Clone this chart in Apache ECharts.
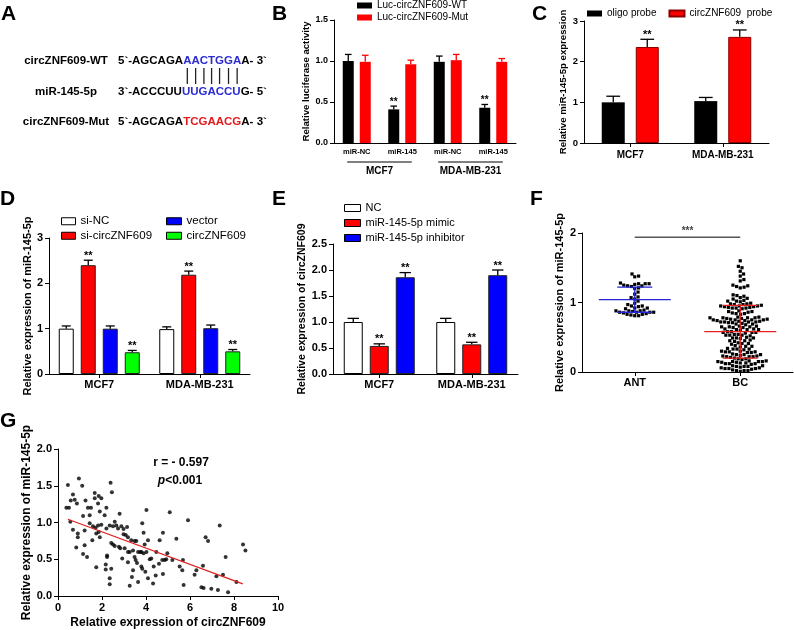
<!DOCTYPE html>
<html><head><meta charset="utf-8">
<script src="https://cdn.jsdelivr.net/npm/echarts@6/dist/echarts.min.js"></script>
<style>html,body{margin:0;padding:0;background:#fff}#c{width:794px;height:630px}</style>
</head><body><div id="c"></div>
<script>
const FONT = '"Liberation Sans", Arial, Helvetica, sans-serif';

// ---------- Panel A ----------
const seqLabelsA = ['circZNF609-WT', 'miR-145-5p', 'circZNF609-Mut'];
const seqPartsA = [
  ['5`-AGCAGA', 'AACTGGA', 'A- 3`'],
  ['3`-ACCCUU', 'UUGACCU', 'G- 5`'],
  ['5`-AGCAGA', 'TCGAACG', 'A- 3`']
];

// ---------- Panel B ----------
const catB = ['miR-NC', 'miR-145', 'miR-NC', 'miR-145'];
const groupB = ['MCF7', 'MDA-MB-231'];
const wtB = [1.00, 0.41, 0.99, 0.43];
const wtErrB = [0.08, 0.04, 0.07, 0.04];
const mutB = [0.99, 0.96, 1.01, 0.99];
const mutErrB = [0.08, 0.05, 0.07, 0.04];
const wtStarB = ['', '**', '', '**'];
const noStarB = ['', '', '', ''];
const ticksB = [0, 0.5, 1, 1.5];
const tickLabB = ['0.0', '0.5', '1.0', '1.5'];

// ---------- Panel C ----------
const catC = ['MCF7', 'MDA-MB-231'];
const oligoC = [1.00, 1.03];
const oligoErrC = [0.15, 0.09];
const probeC = [2.36, 2.61];
const probeErrC = [0.19, 0.17];
const probeStarC = ['**', '**'];
const ticksC = [0, 1, 2, 3];
const tickLabC = ['0', '1', '2', '3'];

// ---------- Panel D ----------
const catD = ['MCF7', 'MDA-MB-231'];
const siNCD = [1.00, 0.99];
const siNCErrD = [0.06, 0.05];
const siCircD = [2.40, 2.19];
const siCircErrD = [0.11, 0.08];
const vectorD = [1.00, 1.01];
const vectorErrD = [0.06, 0.07];
const circD = [0.48, 0.50];
const circErrD = [0.04, 0.04];
const starD = ['**', '**'];
const ticksD = [0, 1, 2, 3];
const tickLabD = ['0', '1', '2', '3'];

// ---------- Panel E ----------
const catE = ['MCF7', 'MDA-MB-231'];
const ncE = [1.00, 1.00];
const ncErrE = [0.07, 0.07];
const mimicE = [0.54, 0.57];
const mimicErrE = [0.04, 0.04];
const inhE = [1.86, 1.90];
const inhErrE = [0.09, 0.10];
const starE = ['**', '**'];
const ticksE = [0, 0.5, 1, 1.5, 2, 2.5];
const tickLabE = ['0.0', '0.5', '1.0', '1.5', '2.0', '2.5'];

// ---------- Panel F ----------
const catF = ['ANT', 'BC'];
const antF = [1.41,1.38,1.37,1.28,1.27,1.27,1.26,1.27,1.25,1.24,1.24,1.23,1.21,1.20,1.15,1.12,1.08,1.07,1.05,1.02,
  0.99,0.97,0.95,0.95,0.94,0.92,0.92,0.91,0.89,0.88,0.88,0.87,0.88,0.86,0.86,0.85,0.86,0.86,0.83,0.83,0.82,0.84,0.81,0.81];
const bcF = [1.60,1.52,1.50,1.45,1.41,1.38,1.33,1.31,1.25,1.24,1.23,1.22,1.21,
  1.11,1.10,1.09,1.07,1.06,1.05,1.03,1.02,1.02,1.01,
  0.99,0.98,0.98,0.97,0.97,0.96,0.95,0.95,0.94,0.94,0.95,0.93,0.92,0.92,0.91,0.92,0.93,
  0.88,0.87,0.87,0.86,0.85,0.84,0.84,0.83,
  0.79,0.78,0.78,0.77,0.78,0.79,0.77,0.78,0.76,0.75,0.75,0.74,0.75,0.76,0.74,0.75,
  0.72,0.72,0.71,0.73,0.72,0.71,0.72,0.73,0.69,0.69,0.68,0.70,
  0.66,0.65,0.65,0.64,0.66,0.65,0.64,0.62,0.61,0.61,0.60,0.62,0.61,0.58,0.57,0.57,0.56,0.58,0.57,
  0.54,0.53,0.53,0.52,0.54,0.53,0.50,0.49,0.49,0.48,0.49,0.46,0.45,0.45,0.44,
  0.42,0.41,0.41,0.40,0.38,0.37,0.37,0.36,0.34,0.33,0.33,0.32,0.33,0.30,0.29,0.29,0.28,0.29,0.30,0.28,
  0.26,0.25,0.25,0.24,0.25,0.23,0.22,0.22,0.21,0.22,0.23,0.20,0.19,0.19,0.18,
  0.16,0.15,0.15,0.14,0.15,0.16,0.14,0.15,0.13,0.12,0.12,0.11,0.12,0.13,
  0.09,0.08,0.08,0.07,0.08,0.09,0.06,0.05,0.05,0.04,0.05,0.06,0.03,0.02,0.02,0.01,0.02];
const meanF = [1.04, 0.58];
const sdF = [0.18, 0.38];
const sigF = [1.94];
const ticksF = [0, 1, 2];
const tickLabF = ['0', '1', '2'];

// ---------- Panel G ----------
const scatterG = [[0.45,1.51],[0.38,1.2],[0.5,1.2],[0.95,1.6],[1.1,1.5],[0.68,1.38],[0.58,1.3],[0.76,1.31],[0.86,1.26],[1.25,1.3],
  [1.36,1.2],[1.5,1.2],[1.67,1.33],[1.85,1.36],[1.97,1.33],[1.67,1.4],[1.82,1.26],[1.9,1.15],[2.2,1.2],[2.12,1.1],
  [1.14,1.09],[1.44,1.1],[2.39,1.54],[2.45,1.41],[0.56,1.01],[0.68,0.9],[0.9,0.85],[0.9,0.8],[0.83,0.66],[1.14,0.57],
  [1.32,0.53],[1.21,0.69],[1.21,0.89],[1.44,0.99],[1.59,0.95],[1.71,0.93],[1.82,0.96],[1.97,0.97],[1.56,0.76],[1.74,0.85],
  [1.85,0.87],[1.9,0.8],[1.74,0.39],[2.2,0.92],[2.23,0.55],[2.23,0.53],[2.17,0.43],[2.17,0.36],[2.35,0.24],[2.35,0.16],
  [2.42,0.37],[2.35,0.96],[2.5,0.95],[2.58,1.01],[2.42,0.72],[2.5,0.7],[2.58,0.68],[2.65,0.96],[2.73,0.92],[2.8,1.12],
  [2.88,0.95],[2.98,0.91],[2.98,0.84],[3.08,0.83],[2.77,0.67],[2.83,0.65],[2.92,0.51],[3.03,0.65],[3.18,0.6],[3.14,0.94],
  [3.18,0.8],[3.26,0.6],[3.18,0.46],[3.26,0.14],[3.33,0.76],[3.41,0.62],[3.48,0.53],[3.41,0.35],[3.36,0.26],[3.48,0.75],
  [3.56,0.75],[3.53,0.49],[3.59,0.45],[3.64,0.19],[3.64,0.6],[3.74,0.6],[3.79,0.4],[3.83,0.37],[3.83,0.99],[3.89,0.86],
  [3.79,0.6],[3.89,0.58],[4.02,0.6],[3.94,0.7],[4.02,1.17],[3.97,0.33],[4.09,0.24],[4.17,0.5],[4.24,0.51],[4.09,0.76],
  [4.32,0.17],[4.35,0.4],[4.47,0.6],[4.44,0.28],[4.62,0.76],[4.59,0.44],[4.77,0.86],[4.74,0.49],[4.85,0.49],[4.92,0.5],
  [4.77,0.3],[4.97,0.58],[5.08,1.14],[5.2,0.49],[5.38,0.78],[5.53,0.4],[5.65,0.35],[5.68,0.49],[5.71,0.15],[5.91,1.03],
  [6.21,0.29],[6.29,0.35],[6.59,0.41],[6.52,0.12],[6.62,0.11],[6.71,0.8],[6.82,0.75],[6.97,0.1],[7.2,0.27],[7.27,0.08],
  [7.35,0.96],[7.5,0.29],[7.62,0.53],[7.73,0.05],[8.11,0.19],[8.41,0.7],[8.52,0.62]];
const regG = [[0.45, 1.045], [8.4, 0.165]];
const statTextG = ['r = - 0.597', 'p', '<0.001'];
const ticksGy = [0, 0.5, 1, 1.5, 2];
const tickLabGy = ['0.0', '0.5', '1.0', '1.5', '2.0'];
const ticksGx = [0, 2, 4, 6, 8, 10];
const tickLabGx = ['0', '2', '4', '6', '8', '10'];

// ---------- helpers ----------
function labFmt(ticks, labs) {
  return v => { const k = ticks.findIndex(t => Math.abs(t - v) < 1e-9); return k >= 0 ? labs[k] : ''; };
}
function yAx(grid, ticks, labs, fs, name, nameFs, nameGap) {
  return {
    type: 'value', gridIndex: grid, min: ticks[0], max: ticks[ticks.length - 1], interval: ticks[1] - ticks[0],
    axisLine: { show: true, lineStyle: { color: '#000', width: 1 } },
    axisTick: { show: true, length: 4, lineStyle: { color: '#000', width: 1 } },
    splitLine: { show: false },
    axisLabel: { fontSize: fs, fontWeight: 'bold', color: '#000', fontFamily: FONT, margin: 6, formatter: labFmt(ticks, labs) },
    name: name, nameLocation: 'middle', nameGap: nameGap,
    nameTextStyle: { fontSize: nameFs, fontWeight: 'bold', color: '#000', fontFamily: FONT }
  };
}
function xCat(grid, data, fs, ticks, margin) {
  return {
    type: 'category', gridIndex: grid, data: data,
    axisLine: { show: true, lineStyle: { color: '#000', width: 1 } },
    axisTick: { show: ticks, alignWithLabel: true, length: 4, lineStyle: { color: '#000' } },
    axisLabel: { fontSize: fs, fontWeight: 'bold', color: '#000', fontFamily: FONT, interval: 0, margin: margin }
  };
}
function barS(name, xi, yi, vals, w, gap, color, border) {
  return {
    type: 'bar', name: name, xAxisIndex: xi, yAxisIndex: yi, data: vals, barWidth: w,
    barGap: (gap / w * 100) + '%',
    itemStyle: { color: color, borderColor: border || color, borderWidth: border ? 1 : 0 },
    silent: true, z: 3
  };
}
function errS(xi, yi, vals, errs, stars, idx, n, w, gap, color, starFs) {
  return {
    type: 'custom', xAxisIndex: xi, yAxisIndex: yi, silent: true, z: 4, clip: false,
    data: vals.map((v, i) => [i, v, errs[i]]),
    renderItem: function (params, api) {
      const i = api.value(0), v = api.value(1), e = api.value(2);
      const off = (idx - (n - 1) / 2) * (w + gap);
      const p0 = api.coord([i, v]), p1 = api.coord([i, v + e]);
      const x = p0[0] + off, cap = w * 0.3;
      const ch = [
        { type: 'line', shape: { x1: x, y1: p0[1], x2: x, y2: p1[1] }, style: { stroke: color, lineWidth: 1.3 } },
        { type: 'line', shape: { x1: x - cap, y1: p1[1], x2: x + cap, y2: p1[1] }, style: { stroke: color, lineWidth: 1.3 } }
      ];
      const s = stars[params.dataIndex];
      if (s) ch.push({ type: 'text', x: x, y: p1[1] + 1, style: { text: s, align: 'center', verticalAlign: 'bottom', fill: '#000', font: 'bold ' + starFs + 'px ' + FONT } });
      return { type: 'group', children: ch };
    }
  };
}
function swarm(ys, d) {
  const order = ys.map((y, i) => i).sort((a, b) => ys[b] - ys[a]);
  const placed = [], xs = new Array(ys.length);
  for (const i of order) {
    const y = ys[i];
    const near = placed.filter(p => Math.abs(p.y - y) < d);
    const cands = [0];
    near.forEach(p => { const dx = Math.sqrt(d * d - (p.y - y) * (p.y - y)); cands.push(p.x + dx, p.x - dx); });
    cands.sort((a, b) => Math.abs(a) - Math.abs(b) || b - a);
    let x = 0;
    for (const c of cands) {
      if (near.every(p => (p.x - c) * (p.x - c) + (p.y - y) * (p.y - y) >= d * d - 1e-6)) { x = c; break; }
    }
    xs[i] = x; placed.push({ x: x, y: y });
  }
  return xs;
}

// ---------- graphic: panel letters + panel A ----------
const graphics = [];
[['A', 1, 4], ['B', 272, 4], ['C', 532, 4], ['D', 0, 189], ['E', 272, 189], ['F', 530, 189], ['G', 0, 411]].forEach(l => {
  graphics.push({ type: 'text', x: l[1], y: l[2], style: { text: l[0], fill: '#000', font: 'bold 21px ' + FONT, align: 'left', verticalAlign: 'top' } });
});
const rowYA = [61, 92, 122];
const seqFont = 'bold 11.5px ' + FONT;
seqLabelsA.forEach((t, r) => {
  graphics.push({ type: 'text', x: 66, y: rowYA[r], style: { text: t, fill: '#000', font: 'bold 11.5px ' + FONT, align: 'center', verticalAlign: 'middle' } });
  const hi = r === 2 ? '#e31a1c' : '#2b2bd0';
  const p = seqPartsA[r];
  graphics.push({ type: 'text', x: 118, y: rowYA[r], style: {
    text: '{k|' + p[0] + '}{h|' + p[1] + '}{k|' + p[2] + '}', align: 'left', verticalAlign: 'middle', font: seqFont,
    rich: { k: { fill: '#000', font: seqFont }, h: { fill: hi, font: seqFont } } } });
});
(function () {
  const cv = document.createElement('canvas').getContext('2d');
  cv.font = seqFont;
  let x0 = 118 + cv.measureText(seqPartsA[0][0]).width;
  const s = seqPartsA[0][1];
  for (let i = 0; i < s.length; i++) {
    const w = cv.measureText(s[i]).width;
    const cx = x0 + w / 2;
    graphics.push({ type: 'line', shape: { x1: cx, y1: 68, x2: cx, y2: 84 }, style: { stroke: '#222', lineWidth: 1.3 } });
    x0 += w;
  }
})();
graphics.push({ type: 'text', x: 181, y: 463, style: { text: statTextG[0], fill: '#000', font: 'bold 12px ' + FONT, align: 'center', verticalAlign: 'middle' } });
graphics.push({ type: 'text', x: 180, y: 481, style: { text: '{i|' + statTextG[1] + '}{n|' + statTextG[2] + '}', align: 'center', verticalAlign: 'middle', font: 'bold 12px ' + FONT,
  rich: { i: { font: 'italic bold 12px ' + FONT, fill: '#000' }, n: { font: 'bold 12px ' + FONT, fill: '#000' } } } });

const legTxt = fs => ({ fontSize: fs, fontFamily: FONT, color: '#000', lineHeight: fs + 1 });

const option = {
  animation: false,
  backgroundColor: '#fff',
  graphic: graphics,
  grid: [
    { left: 334, top: 20, width: 182, height: 123 },
    { left: 584, top: 21, width: 185, height: 122 },
    { left: 49, top: 238, width: 201, height: 136 },
    { left: 333, top: 244, width: 185, height: 130 },
    { left: 582, top: 233, width: 211, height: 139 },
    { left: 58, top: 449, width: 220, height: 147 }
  ],
  legend: [
    { data: ['Luc-circZNF609-WT', 'Luc-circZNF609-Mut'], orient: 'vertical', left: 357, top: 0, padding: 0, itemWidth: 15, itemHeight: 6, itemGap: 1, icon: 'rect', selectedMode: false, textStyle: legTxt(10) },
    { data: ['oligo probe', 'circZNF609  probe'], orient: 'horizontal', left: 587, top: 8, padding: 0, itemWidth: 15, itemHeight: 6, itemGap: 12, icon: 'rect', selectedMode: false, textStyle: legTxt(10) },
    { data: ['si-NC', 'si-circZNF609'], orient: 'vertical', left: 61, top: 215, padding: 0, itemWidth: 14, itemHeight: 7, itemGap: 2, icon: 'rect', selectedMode: false, textStyle: legTxt(11.5), itemStyle: { borderColor: '#000', borderWidth: 1 } },
    { data: ['vector', 'circZNF609'], orient: 'vertical', left: 166, top: 215, padding: 0, itemWidth: 15, itemHeight: 7, itemGap: 2, icon: 'rect', selectedMode: false, textStyle: legTxt(11.5), itemStyle: { borderColor: '#000', borderWidth: 1 } },
    { data: ['NC', 'miR-145-5p mimic', 'miR-145-5p inhibitor'], orient: 'vertical', left: 344, top: 202, padding: 0, itemWidth: 16, itemHeight: 7, itemGap: 3, icon: 'rect', selectedMode: false, textStyle: legTxt(11), itemStyle: { borderColor: '#000', borderWidth: 1 } }
  ],
  xAxis: [
    xCat(0, catB, 7.5, false, 5),
    Object.assign(xCat(0, groupB, 10, false, 4), { position: 'bottom', offset: 19, axisLine: { show: false } }),
    xCat(1, catC, 10, true, 7),
    xCat(2, catD, 11, true, 5),
    xCat(3, catE, 11, true, 5),
    xCat(4, catF, 11, true, 5),
    { type: 'value', gridIndex: 5, min: ticksGx[0], max: ticksGx[ticksGx.length - 1], interval: ticksGx[1] - ticksGx[0],
      axisLine: { show: true, lineStyle: { color: '#000', width: 1 } }, axisTick: { show: true, length: 4, lineStyle: { color: '#000' } },
      splitLine: { show: false },
      axisLabel: { fontSize: 11, fontWeight: 'bold', color: '#000', fontFamily: FONT, margin: 6, formatter: labFmt(ticksGx, tickLabGx) },
      name: 'Relative expression of circZNF609', nameLocation: 'middle', nameGap: 21,
      nameTextStyle: { fontSize: 12, fontWeight: 'bold', color: '#000', fontFamily: FONT } }
  ],
  yAxis: [
    yAx(0, ticksB, tickLabB, 9, 'Relative luciferase activity', 9.6, 21),
    yAx(1, ticksC, tickLabC, 9.5, 'Relative miR-145-5p expression', 9.6, 12),
    yAx(2, ticksD, tickLabD, 11, 'Relative expression of miR-145-5p', 11, 12),
    yAx(3, ticksE, tickLabE, 11, 'Relative expression of circZNF609', 10.5, 23),
    yAx(4, ticksF, tickLabF, 11, 'Relative expression of miR-145-5p', 11, 17),
    yAx(5, ticksGy, tickLabGy, 11, 'Relative expression of miR-145-5p', 12, 23)
  ],
  series: [
    // B
    barS('Luc-circZNF609-WT', 0, 0, wtB, 11, 6, '#000'),
    barS('Luc-circZNF609-Mut', 0, 0, mutB, 11, 6, '#ff0000'),
    errS(0, 0, wtB, wtErrB, wtStarB, 0, 2, 11, 6, '#000', 10),
    errS(0, 0, mutB, mutErrB, noStarB, 1, 2, 11, 6, '#ff0000', 10),
    { type: 'custom', xAxisIndex: 0, yAxisIndex: 0, silent: true, clip: false, data: [[0], [1]],
      renderItem: function (params, api) {
        const g = params.dataIndex, band = api.size([1, 0])[0];
        const a = api.coord([2 * g, 0]), b = api.coord([2 * g + 1, 0]);
        return { type: 'line', shape: { x1: a[0] - band * 0.21, y1: a[1] + 19, x2: b[0] + band * 0.21, y2: a[1] + 19 }, style: { stroke: '#000', lineWidth: 1 } };
      } },
    // C
    barS('oligo probe', 2, 1, oligoC, 23, 11, '#000'),
    barS('circZNF609  probe', 2, 1, probeC, 23, 11, '#ff0000', '#8b0000'),
    errS(2, 1, oligoC, oligoErrC, ['', ''], 0, 2, 23, 11, '#000', 11),
    errS(2, 1, probeC, probeErrC, probeStarC, 1, 2, 23, 11, '#000', 11),
    // D
    barS('si-NC', 3, 2, siNCD, 15, 7, '#ffffff', '#000'),
    barS('si-circZNF609', 3, 2, siCircD, 15, 7, '#ff0000', '#222'),
    barS('vector', 3, 2, vectorD, 15, 7, '#0000ff', '#222'),
    barS('circZNF609', 3, 2, circD, 15, 7, '#00ff00', '#222'),
    errS(3, 2, siNCD, siNCErrD, ['', ''], 0, 4, 15, 7, '#000', 11),
    errS(3, 2, siCircD, siCircErrD, starD, 1, 4, 15, 7, '#000', 11),
    errS(3, 2, vectorD, vectorErrD, ['', ''], 2, 4, 15, 7, '#000', 11),
    errS(3, 2, circD, circErrD, starD, 3, 4, 15, 7, '#000', 11),
    // E
    barS('NC', 4, 3, ncE, 19, 7, '#ffffff', '#000'),
    barS('miR-145-5p mimic', 4, 3, mimicE, 19, 7, '#ff0000', '#222'),
    barS('miR-145-5p inhibitor', 4, 3, inhE, 19, 7, '#0000ff', '#222'),
    errS(4, 3, ncE, ncErrE, ['', ''], 0, 3, 19, 7, '#000', 11),
    errS(4, 3, mimicE, mimicErrE, starE, 1, 3, 19, 7, '#000', 11),
    errS(4, 3, inhE, inhErrE, starE, 2, 3, 19, 7, '#000', 11),
    // F swarm
    { type: 'custom', xAxisIndex: 5, yAxisIndex: 4, silent: true, clip: false, z: 3, data: [[0], [1]],
      renderItem: function (params, api) {
        const k = params.dataIndex, vals = k === 0 ? antF : bcF;
        const cx = api.coord([k, 0])[0];
        const ys = vals.map(v => api.coord([k, v])[1]);
        const xs = swarm(ys, 3.9);
        return { type: 'group', children: ys.map((y, i) => ({ type: 'rect', shape: { x: cx + xs[i] - 1.6, y: y - 1.6, width: 3.2, height: 3.2 }, style: { fill: '#000' } })) };
      } },
    { type: 'custom', xAxisIndex: 5, yAxisIndex: 4, silent: true, clip: false, z: 4, data: [[0], [1]],
      renderItem: function (params, api) {
        const k = params.dataIndex, col = k === 0 ? '#2424d8' : '#e82020';
        const m = api.coord([k, meanF[k]]), hi = api.coord([k, meanF[k] + sdF[k]]), lo = api.coord([k, meanF[k] - sdF[k]]);
        const st = { stroke: col, lineWidth: 1.3 };
        return { type: 'group', children: [
          { type: 'line', shape: { x1: m[0] - 36, y1: m[1], x2: m[0] + 36, y2: m[1] }, style: st },
          { type: 'line', shape: { x1: m[0], y1: hi[1], x2: m[0], y2: lo[1] }, style: st },
          { type: 'line', shape: { x1: m[0] - 17.5, y1: hi[1], x2: m[0] + 17.5, y2: hi[1] }, style: st },
          { type: 'line', shape: { x1: m[0] - 17.5, y1: lo[1], x2: m[0] + 17.5, y2: lo[1] }, style: st }
        ] };
      } },
    { type: 'custom', xAxisIndex: 5, yAxisIndex: 4, silent: true, clip: false, z: 4, data: [[0]],
      renderItem: function (params, api) {
        const a = api.coord([0, sigF[0]]), b = api.coord([1, sigF[0]]);
        return { type: 'group', children: [
          { type: 'line', shape: { x1: a[0], y1: a[1], x2: b[0], y2: b[1] }, style: { stroke: '#555', lineWidth: 1.5 } },
          { type: 'text', x: (a[0] + b[0]) / 2, y: a[1] - 1, style: { text: '***', align: 'center', verticalAlign: 'bottom', fill: '#444', font: 'bold 10px ' + FONT } }
        ] };
      } },
    // G
    { type: 'scatter', xAxisIndex: 6, yAxisIndex: 5, data: scatterG, symbol: 'circle', symbolSize: 4, itemStyle: { color: '#000' }, silent: true },
    { type: 'line', xAxisIndex: 6, yAxisIndex: 5, data: regG, symbol: 'none', lineStyle: { color: '#e02020', width: 1.2 }, silent: true, z: 4 }
  ]
};
const chart = echarts.init(document.getElementById('c'), null, { renderer: 'canvas' });
chart.setOption(option);
</script></body></html>
